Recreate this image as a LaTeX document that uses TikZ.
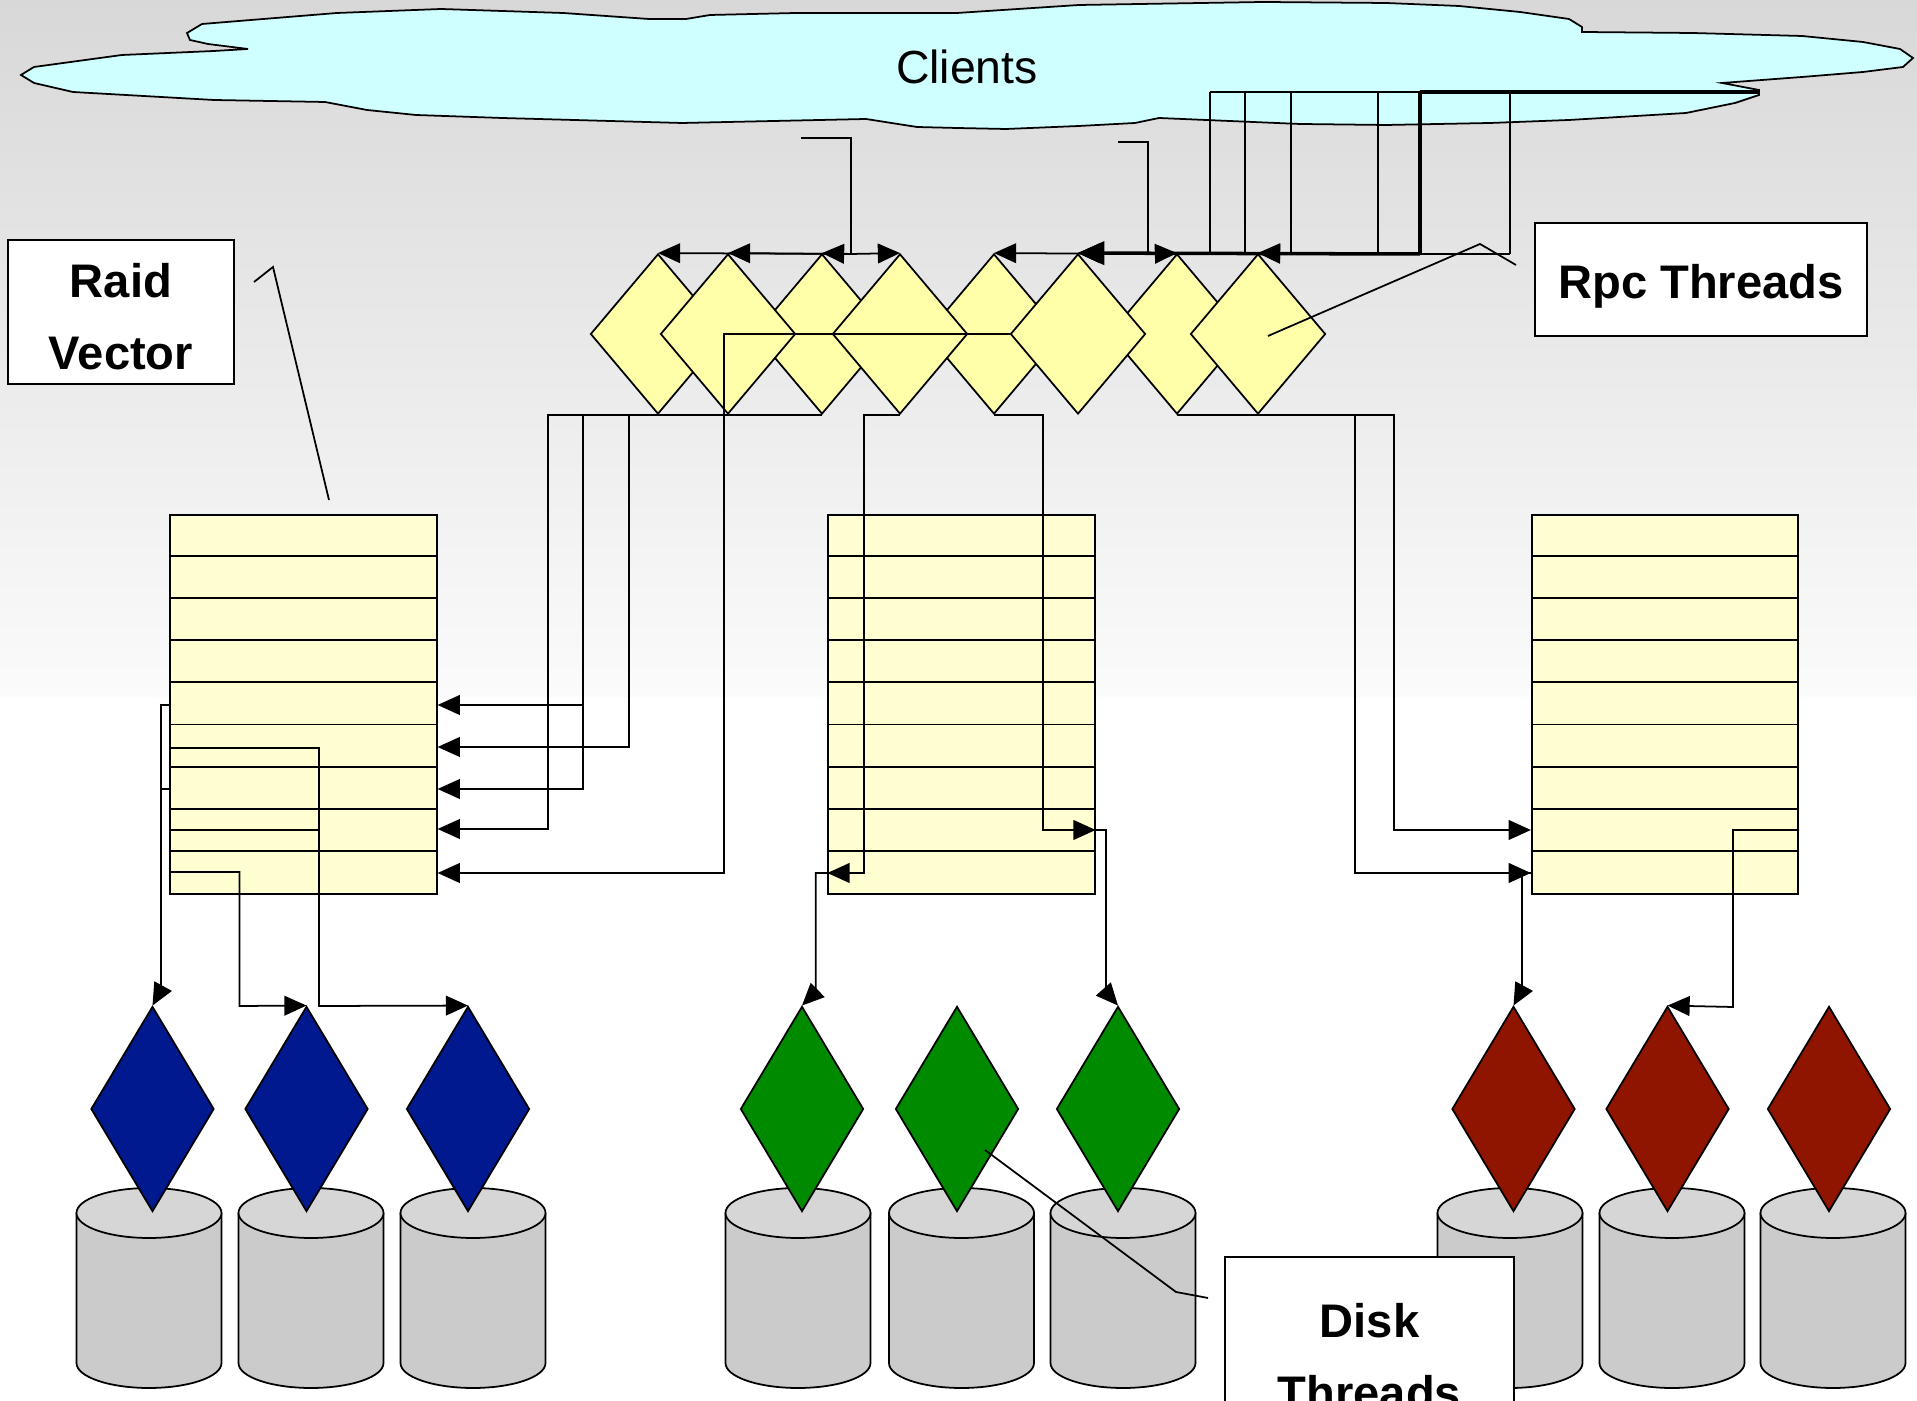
\documentclass[tikz,border=0pt]{standalone}
\usepackage{fontspec}
\setmainfont{Liberation Sans}
\usetikzlibrary{shapes.geometric,arrows.meta}
\definecolor{bgtop}{HTML}{D8D8D8}
\definecolor{bgbot}{HTML}{FBFBFB}
\definecolor{cloudfill}{HTML}{D0FFFF}
\definecolor{rpcfill}{HTML}{FFFFAA}
\definecolor{vecfill}{HTML}{FFFFD2}
\definecolor{dblue}{HTML}{00198F}
\definecolor{dgreen}{HTML}{008A00}
\definecolor{dred}{HTML}{8F1500}
\definecolor{diskbody}{HTML}{CBCBCB}
\definecolor{disktop}{HTML}{D6D6D6}

\begin{document}
\begin{tikzpicture}[x=0.01cm,y=-0.01cm,line width=0.5pt,>={Triangle[length=6.3pt,width=5.6pt]},
  rpc/.style={diamond,draw,fill=rpcfill,minimum width=1.35cm,minimum height=1.6cm,inner sep=0pt},
  dsk/.style={diamond,draw,minimum width=1.23cm,minimum height=2.05cm,inner sep=0pt},
  vec/.style={draw,fill=vecfill,line width=0.6pt,minimum width=2.66cm,minimum height=3.79cm,inner sep=0pt},
  lbl/.style={draw,fill=white,font=\fontsize{13.4}{20.5}\selectfont\bfseries,align=center,inner sep=0pt},
  lbltext/.style={font=\fontsize{13.4}{20.5}\selectfont\bfseries,align=center,inner sep=0pt},
  heavy/.style={line width=1pt}]
\useasboundingbox (0,0) rectangle (1917,1401);
\clip (0,0) rectangle (1917,1401);
\shade[top color=bgtop,bottom color=bgbot] (0,0) rectangle (1917,697);
\fill[white] (0,697) rectangle (1917,1401);
% clients cloud
\draw[fill=cloudfill] (202,24) -- (337,13) -- (441,9) -- (563,13) -- (649,19) -- (686,19) -- (710,15)
  -- (796,13) -- (919,13) -- (957,13) -- (1079,5) -- (1263,2) -- (1386,3) -- (1459,6) -- (1520,12)
  -- (1569,19) -- (1582,27) -- (1582,32) -- (1692,33) -- (1802,36) -- (1863,42) -- (1900,49)
  -- (1913,58) -- (1903,67) -- (1863,72) -- (1802,77) -- (1722,83) -- (1759,90) -- (1759,95)
  -- (1735,103) -- (1686,113) -- (1569,120) -- (1490,123) -- (1386,125) -- (1300,124) -- (1159,118)
  -- (1135,123) -- (1079,126) -- (1006,129) -- (957,128) -- (917,127) -- (866,119) -- (682,123)
  -- (502,118) -- (416,115) -- (367,110) -- (325,102) -- (214,100) -- (73,92) -- (34,83) -- (21,75)
  -- (34,67) -- (122,55) -- (214,51) -- (248,49) -- (208,44) -- (190,40) -- (187,33) -- cycle;
\node (clients) at (967,67) {\fontsize{13.2}{16}\selectfont Clients};
% rpc threads, back row first
\foreach \n/\x in {1/658,3/822,5/994,7/1177,2/728,4/900,6/1078,8/1258}
  \node[rpc] (r\n) at (\x,334) {};
% requests from the clients
\coordinate (c1) at (801,138);
\coordinate (c2) at (1118,142);
\coordinate (h1) at (851,254);
\coordinate (h2) at (1148,254);
\coordinate (notch) at (1759,92);
\foreach \i/\x in {1/1210,2/1245,3/1291,4/1378,5/1420,6/1510}{
  \coordinate (q\i) at (\x,92);
  \coordinate (b\i) at (\x,254);
}
\draw (c1) -| (h1);
\draw (c2) -| (h2);
\draw (q1) -- (q5);
\draw[heavy] (q5) -- (notch);
\foreach \i in {1,2,3,4,6} \draw (q\i) -- (b\i);
\draw[heavy] (q5) -- (b5);
\draw (b6) -- (b5);
\draw[->] (h1) -- (r1.north);
\draw[->] (h1) -- (r2.north);
\draw[->] (h1) -- (r3.north);
\draw[->] (h1) -- (r4.north);
\draw[->] (h2) -- (r5.north);
\draw[->] (h2) -- (r7.north);
\draw[->] (b1) -- (r6.north);
\draw[->] (b2) -- (r6.north);
\draw[->] (b3) -- (r8.north);
\draw[->] (b4) -- (r8.north);
\draw[heavy,-{Triangle[length=7.5pt,width=6.6pt]}] (b5) -- (r6.north);
% raid vectors
\foreach \i/\x in {1/303.5,2/961.5,3/1665}{
  \node[vec] (v\i) at (\x,704.5) {};
  \foreach \j in {1,...,8}
    \draw ([yshift=-\j*0.4211cm]v\i.north west) -- ([yshift=-\j*0.4211cm]v\i.north east);
}
% rpc threads -> raid vectors
\draw[->] (r1.south) -| (548,829) -- (v1.east |- 0,829);
\draw[->] (r2.south) -| (583,789) -- (v1.east |- 0,789);
\draw[->] (583,705) -- (v1.east |- 0,705);
\draw[->] (r3.south) -| (629,747) -- (v1.east |- 0,747);
\draw[->] (r6.west) -| (724,873) -- (v1.east |- 0,873);
\draw[->] (r4.south) -| (864,873) -- (v2.west |- 0,873);
\draw[->] (r5.south) -| (1043,830) -- (v2.east |- 0,830);
\draw[->] (r7.south) -| (1394,830) -- (v3.west |- 0,830);
\draw[->] (r8.south) -| (1355,873) -- (v3.west |- 0,873);
% disks
\foreach \x in {149,311,473,798,961.5,1123,1510,1672,1833}{
  \fill[diskbody] (\x-72.5,1213) rectangle (\x+72.5,1363);
  \fill[diskbody] (\x,1363) ellipse (72.5 and 25);
  \draw (\x-72.5,1213) -- (\x-72.5,1363) arc (180:0:72.5 and 25) -- (\x+72.5,1213);
  \filldraw[fill=disktop] (\x,1213) ellipse (72.5 and 25);
}
% disk threads
\foreach \n/\x/\c in {1/152.5/dblue,2/306.5/dblue,3/468/dblue,4/802/dgreen,5/957/dgreen,6/1118/dgreen,7/1513.5/dred,8/1667.5/dred,9/1829/dred}
  \node[dsk,fill=\c] (d\n) at (\x,1109) {};
% raid vectors -> disk threads
\draw[->] (v1.west |- 0,705) -| (161,990) -- (d1.north);
\draw (v1.west |- 0,789) -- (161,789);
\draw[->] (v1.west |- 0,748) -| (319,1006) -- (d3.north);
\draw (v1.west |- 0,830) -- (319,830);
\draw[->] (v1.west |- 0,872) -| (239.5,1006) -- (d2.north);
\draw[->] (v2.west |- 0,873) -| (815.7,992) -- (d4.north);
\draw[->] (v2.east |- 0,830) -| (1106,992) -- (d6.north);
\draw[->] (v3.west |- 0,873) -| (1522,990) -- (d7.north);
\draw[->] (v3.east |- 0,830) -| (1733,1007) -- (d8.north);
% labels and callouts
\node[lbl,minimum width=2.26cm,minimum height=1.44cm] (rvlab) at (121,312) {};
\node[lbltext] (rvtext) at (121,317) {Raid\\Vector};
\node[lbl,minimum width=3.32cm,minimum height=1.13cm,text height=0.39cm,text depth=0pt] (rtlab) at (1701,279.5) {Rpc Threads};
\node[lbl,anchor=north,minimum width=2.89cm,minimum height=2.0cm] (dtlab) at (1369.5,1256) {Disk\\Threads};
\coordinate (rvtip) at (329,500);
\coordinate (rttip) at (1268,336);
\coordinate (dttip) at (985,1150);
\draw (254,282) -- (273,267) -- (rvtip);
\draw (1516,265) -- (1480,244) -- (rttip);
\draw (1208,1298) -- (1176,1292) -- (dttip);
\end{tikzpicture}
\end{document}
